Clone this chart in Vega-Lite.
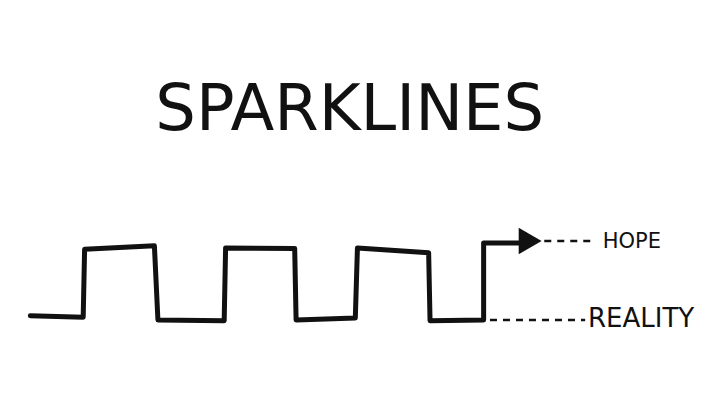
{
  "$schema": "https://vega.github.io/schema/vega-lite/v6.json",
  "width": 705,
  "height": 420,
  "padding": 0,
  "autosize": {"type": "fit", "contains": "padding"},
  "background": "white",
  "config": {"view": {"stroke": null}},
  "datasets": {
    "series": [
      {"i": 0, "t": 4.3, "v": 0.06},
      {"i": 1, "t": 11.8, "v": 0.04},
      {"i": 2, "t": 12.0, "v": 1.01},
      {"i": 3, "t": 21.9, "v": 1.06},
      {"i": 4, "t": 22.4, "v": 0.0},
      {"i": 5, "t": 31.8, "v": -0.01},
      {"i": 6, "t": 32.0, "v": 1.03},
      {"i": 7, "t": 41.8, "v": 1.02},
      {"i": 8, "t": 42.0, "v": 0.0},
      {"i": 9, "t": 50.4, "v": 0.03},
      {"i": 10, "t": 50.7, "v": 1.03},
      {"i": 11, "t": 60.8, "v": 0.96},
      {"i": 12, "t": 61.0, "v": -0.01},
      {"i": 13, "t": 68.6, "v": 0.0},
      {"i": 14, "t": 68.6, "v": 1.1},
      {"i": 15, "t": 73.6, "v": 1.1}
    ],
    "arrow": [{"t": 75.2, "v": 1.13}],
    "guides": [
      {"label": "HOPE", "t1": 77.2, "t2": 84.0, "v": 1.13, "lt": 85.5, "size": 21},
      {"label": "REALITY", "t1": 69.5, "t2": 83.0, "v": 0.0, "lt": 83.4, "size": 26}
    ],
    "title": [{"label": "SPARKLINES", "t": 49.6, "v": 2.72}]
  },
  "encoding": {},
  "layer": [
    {
      "data": {"name": "series"},
      "mark": {"type": "line", "color": "#111", "strokeWidth": 5, "strokeCap": "round", "strokeJoin": "round"},
      "encoding": {
        "x": {"field": "t", "type": "quantitative", "scale": {"domain": [0, 100], "nice": false}, "axis": null},
        "y": {"field": "v", "type": "quantitative", "scale": {"domain": [-1.4286, 4.5714], "nice": false}, "axis": null},
        "order": {"field": "i"}
      }
    },
    {
      "data": {"name": "arrow"},
      "mark": {"type": "point", "shape": "triangle-right", "filled": true, "color": "#111", "opacity": 1, "size": 700},
      "encoding": {
        "x": {"field": "t", "type": "quantitative"},
        "y": {"field": "v", "type": "quantitative"}
      }
    },
    {
      "data": {"name": "guides"},
      "mark": {"type": "rule", "color": "#111", "strokeWidth": 2.5, "strokeDash": [7, 6]},
      "encoding": {
        "x": {"field": "t1", "type": "quantitative"},
        "x2": {"field": "t2"},
        "y": {"field": "v", "type": "quantitative"}
      }
    },
    {
      "data": {"name": "guides"},
      "mark": {"type": "text", "align": "left", "baseline": "alphabetic", "dy": 7, "font": "DejaVu Sans", "color": "#111"},
      "encoding": {
        "x": {"field": "lt", "type": "quantitative"},
        "y": {"field": "v", "type": "quantitative"},
        "text": {"field": "label"},
        "size": {"field": "size", "type": "quantitative", "scale": null}
      }
    },
    {
      "data": {"name": "title"},
      "mark": {"type": "text", "align": "center", "baseline": "alphabetic", "font": "DejaVu Sans", "fontSize": 64, "color": "#111"},
      "encoding": {
        "x": {"field": "t", "type": "quantitative"},
        "y": {"field": "v", "type": "quantitative"},
        "text": {"field": "label"}
      }
    }
  ]
}
